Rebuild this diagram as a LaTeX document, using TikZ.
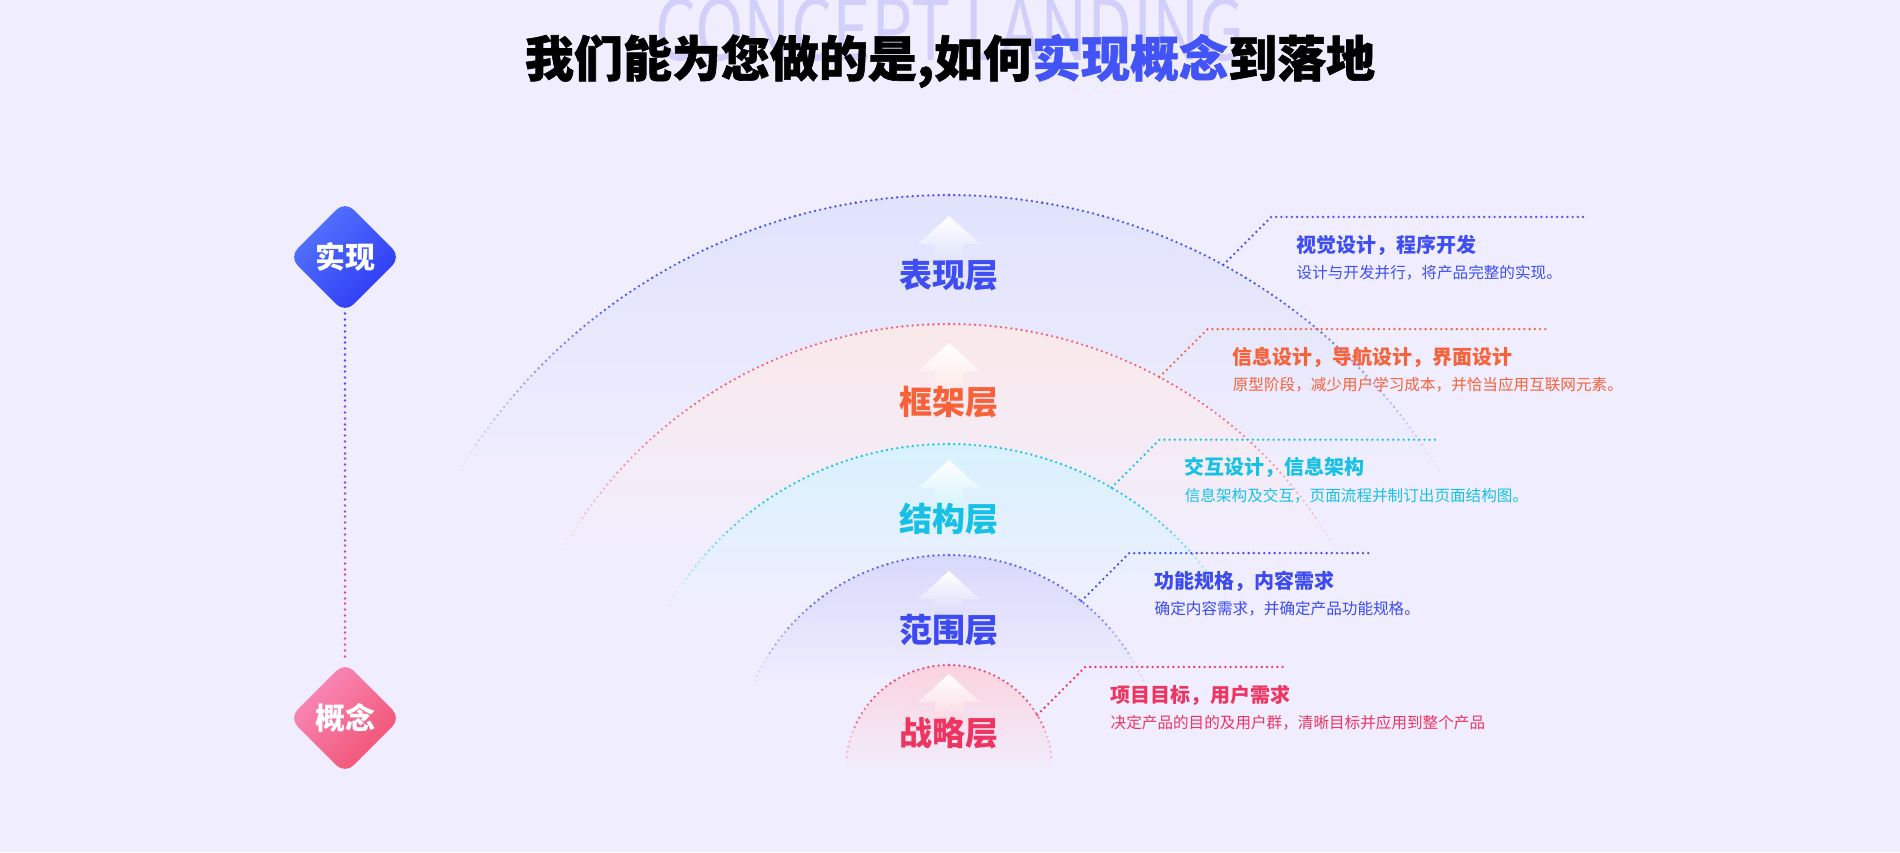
\documentclass[tikz,border=0pt]{standalone}
\usepackage{fontspec}
\setmainfont{Noto Sans CJK SC}
\newfontfamily\heavyfont{Noto Sans CJK SC}[BoldFeatures={FakeBold=1.2}]
\usetikzlibrary{shapes.geometric,calc,positioning}
\definecolor{pagebg}{HTML}{F0EEFE}
\definecolor{ghostc}{HTML}{D2D0FB}
\definecolor{accent}{HTML}{4254F6}
\definecolor{gemblueA}{HTML}{5677FF}
\definecolor{gemblueB}{HTML}{2B38F2}
\definecolor{gempinkA}{HTML}{FA8DBD}
\definecolor{gempinkB}{HTML}{F0506F}
\definecolor{spineblue}{HTML}{4B47EE}
\definecolor{spinepink}{HTML}{E0508C}
\definecolor{domeA}{HTML}{DCDFFC}
\definecolor{domeB}{HTML}{FDE7E5}
\definecolor{domeC}{HTML}{D1F3FD}
\definecolor{domeD}{HTML}{D4D4FB}
\definecolor{domeE}{HTML}{FBD2DE}
\definecolor{arcA}{HTML}{4A53EF}
\definecolor{arcB}{HTML}{F1627C}
\definecolor{arcC}{HTML}{1EC4EA}
\definecolor{arcD}{HTML}{5F66EF}
\definecolor{arcE}{HTML}{EF4D78}
\definecolor{inkA}{HTML}{3F4EF2}
\definecolor{inkB}{HTML}{F7623A}
\definecolor{inkC}{HTML}{17C1E5}
\definecolor{inkD}{HTML}{3C4AEF}
\definecolor{inkE}{HTML}{EE3562}
\definecolor{leadB}{HTML}{F5623D}

\begin{document}
\begin{tikzpicture}[x=0.5pt, y=-0.5pt, font=\fontsize{8}{10}\selectfont,
    dots/.style={line width=1.3pt, line cap=round, dash pattern=on 0pt off 2.6pt},
    spine/.style={line width=1.4pt, line cap=round, dash pattern=on 0pt off 3pt},
    gem/.style={diamond, minimum width=56pt, minimum height=56pt, inner sep=0pt, rounded corners=6pt,
      text=white, font=\fontsize{15}{18}\selectfont\bfseries},
    layer/.style={font=\fontsize{16.5}{20}\selectfont\bfseries},
    headtext/.style={anchor=west, inner sep=0pt, font=\fontsize{10}{12}\selectfont\bfseries},
    notetext/.style={anchor=west, inner sep=0pt, font=\fontsize{7.8}{10}\selectfont}]
  \fill[pagebg] (0,0) rectangle (1900,852);
  \useasboundingbox (0,0) rectangle (1900,852);

  \node[text=ghostc, anchor=base, xscale=0.78, inner sep=0pt, font=\fontsize{42}{46}\selectfont] (ghostline) at (950,60) {CONCEPT LANDING};
  \node[font=\fontsize{24.5}{28}\selectfont\heavyfont\bfseries] (headline) at (950,61) {我们能为您做的是,如何\textcolor{accent}{实现概念}到落地};

  % domes: radius / fade depth / fill / arc / text / label y / label
  \foreach \k/\R/\D/\dome/\arcc/\ink/\ly/\word in {
    1/573/360/domeA/arcA/inkA/275/表现层, 2/444/295/domeB/arcB/inkB/402/框架层,
    3/324/208/domeC/arcC/inkC/519/结构层, 4/213/167/domeD/arcD/inkD/630/范围层,
    5/103/137/domeE/arcE/inkE/733/战略层} {
    \pgfmathsetmacro{\sa}{-asin((\R-0.8*\D)/\R)}
    \pgfmathsetmacro{\ea}{-180-(\sa)}
    \shade[top color=\dome, middle color=\dome!65!pagebg, bottom color=pagebg] ($(949,768)+(\sa:\R)$) arc[start angle=\sa, end angle=\ea, radius=\R] -- cycle;
    % dotted rim, six dots a piece, paling towards the chord
    \pgfmathsetmacro{\stp}{31.2/\R*180/pi}
    \pgfmathtruncatemacro{\np}{ceil((90-asin((\R-\D)/\R))/\stp)}
    \foreach \j in {1,...,\np} {
      \pgfmathsetmacro{\ta}{-90+(\j-1)*\stp}
      \pgfmathsetmacro{\tb}{-90+\j*\stp}
      \pgfmathsetmacro{\fd}{\R*(1+sin((\ta+\tb)/2))/\D}
      \pgfmathtruncatemacro{\pct}{max(0,min(100,(0.78-\fd)*200))}
      \draw[dots, \arcc!\pct!pagebg] ($(949,768)+(\ta:\R)$) arc[start angle=\ta, end angle=\tb, radius=\R];
      \draw[dots, \arcc!\pct!pagebg] ($(949,768)+(-180-\ta:\R)$) arc[start angle=-180-\ta, end angle=-180-\tb, radius=\R];
    }
    \shade[top color=white, middle color=white!70!\dome, bottom color=\dome] (949,\ly-59) -- ++(31,28) -- ++(-17,0) -- ++(0,24) -- ++(-28,0) -- ++(0,-24) -- ++(-17,0) -- cycle;
    \node[layer, text=\ink] (layer\k) at (949,\ly) {\word};
  }

  \foreach \k/\R/\ang/\len/\lead/\ink/\ttl/\dsc in {
    1/573/-61.4/315/arcA/inkA/视觉设计，程序开发/设计与开发并行，将产品完整的实现。,
    2/444/-61.7/341/leadB/inkB/信息设计，导航设计，界面设计/原型阶段，减少用户学习成本，并恰当应用互联网元素。,
    3/324/-59.9/277/arcC/inkC/交互设计，信息架构/信息架构及交互，页面流程并制订出页面结构图。,
    4/213/-51.6/240/inkD/inkD/功能规格，内容需求/确定内容需求，并确定产品功能规格。,
    5/103/-31/199/inkE/inkE/项目目标，用户需求/决定产品的目的及用户群，清晰目标并应用到整个产品} {
    \coordinate (s\k) at ($(949,768)+(\ang:\R)$);
    \coordinate (c\k) at ($(s\k)+(48,-48)$);
    \coordinate (e\k) at ($(c\k)+(\len,0)$);
    \draw[dots, \lead] (s\k) -- (c\k) -- (e\k);
    \node[headtext, text=\ink] (h\k) at ($(c\k)+(25,28)$) {\ttl};
    \node[notetext, text=\ink] (n\k) at ($(c\k)+(25,56)$) {\dsc};
  }

  \node[gem, top color=gemblueA, bottom color=gemblueB, shading angle=45] (real) at (345,257) {实现};
  \node[gem, top color=gempinkA, bottom color=gempinkB, shading angle=45] (idea) at (345,718) {概念};
  \foreach \i in {0,...,11} {
    \pgfmathsetmacro{\ps}{\i/12}
    \pgfmathsetmacro{\pe}{(\i+1)/12}
    \pgfmathtruncatemacro{\mix}{100-\i*100/11}
    \draw[spine, spineblue!\mix!spinepink] ($(real.south)!\ps!(idea.north)$) -- ($(real.south)!\pe!(idea.north)$);
  }
\end{tikzpicture}
\end{document}
